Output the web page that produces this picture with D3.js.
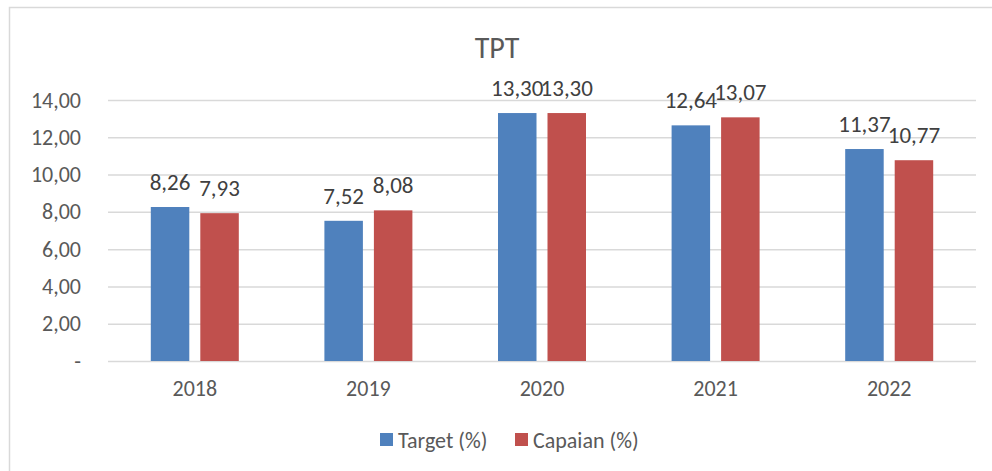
<!DOCTYPE html>
<html>
<head>
<meta charset="utf-8">
<script src="https://cdn.jsdelivr.net/npm/d3@7"></script>
<style>
  body { margin: 0; background: #fff; }
  text { font-family: Carlito, Calibri, "Open Sans", sans-serif; }
</style>
</head>
<body>
<div id="chart"></div>
<script>
var years = ["2018", "2019", "2020", "2021", "2022"];
var target = [8.26, 7.52, 13.30, 12.64, 11.37];
var capaian = [7.93, 8.08, 13.30, 13.07, 10.77];
var seriesNames = ["Target (%)", "Capaian (%)"];
var yTicks = [0, 2, 4, 6, 8, 10, 12, 14];
var colors = ["#4f81bd", "#c0504d"];

var W = 992, H = 471;
var svg = d3.select("#chart").append("svg").attr("width", W).attr("height", H);

// chart frame (cut off on right and bottom like the screenshot)
svg.append("rect")
  .attr("x", 9.5).attr("y", 7.5).attr("width", 1000).attr("height", 500)
  .attr("fill", "#fff").attr("stroke", "#d9d9d9").attr("stroke-width", 1.5);

var plotL = 108, plotR = 976, plotT = 100, plotB = 361;
var x = d3.scaleBand().domain(years).range([plotL, plotR]);
var y = d3.scaleLinear().domain([0, 14]).range([plotB, plotT]);
var fmt = function(v) { return v === 0 ? "-" : d3.format(".2f")(v).replace(".", ","); };

// gridlines
svg.append("g").selectAll("line").data(yTicks).enter().append("line")
  .attr("x1", plotL).attr("x2", plotR)
  .attr("y1", function(d) { return y(d) + 0.5; })
  .attr("y2", function(d) { return y(d) + 0.5; })
  .attr("stroke", "#d9d9d9").attr("stroke-width", 1.5);

var yAxis = svg.append("g").attr("transform", "translate(" + (plotL - 27) + ",0)")
  .call(d3.axisLeft(y).tickValues(yTicks).tickFormat(fmt).tickSize(0).tickPadding(0));
yAxis.select(".domain").remove();
yAxis.selectAll("text").attr("fill", "#595959").attr("font-size", 22);

var xAxis = svg.append("g").attr("transform", "translate(0," + plotB + ")")
  .call(d3.axisBottom(x).tickSize(0).tickPadding(19));
xAxis.select(".domain").remove();
xAxis.selectAll("text").attr("fill", "#595959").attr("font-size", 22);

var barW = 38.5, gap = 11;
var groups = [target, capaian];
groups.forEach(function(vals, s) {
  var off = function(i) {
    return x(years[i]) + x.bandwidth() / 2 - (barW * 2 + gap) / 2 + s * (barW + gap);
  };
  svg.append("g").selectAll("rect").data(vals).enter().append("rect")
    .attr("x", function(d, i) { return off(i); })
    .attr("y", function(d) { return y(d); })
    .attr("width", barW)
    .attr("height", function(d) { return plotB - y(d); })
    .attr("fill", colors[s]);
  svg.append("g").selectAll("text").data(vals).enter().append("text")
    .attr("x", function(d, i) { return off(i) + barW / 2; })
    .attr("y", function(d) { return y(d) - 17; })
    .attr("text-anchor", "middle")
    .attr("fill", "#404040").attr("font-size", 23)
    .text(fmt);
});

svg.append("text").attr("x", 497).attr("y", 58).attr("text-anchor", "middle")
  .attr("fill", "#595959").attr("font-size", 30).text("TPT");

// legend
var legend = svg.append("g").attr("transform", "translate(380,440)");
var lx = [0, 135];
seriesNames.forEach(function(name, i) {
  legend.append("rect").attr("x", lx[i]).attr("y", -7).attr("width", 13).attr("height", 13).attr("fill", colors[i]);
  legend.append("text").attr("x", lx[i] + 18).attr("y", 7.5).attr("fill", "#595959")
    .attr("font-size", 22).text(name);
});
</script>
</body>
</html>
